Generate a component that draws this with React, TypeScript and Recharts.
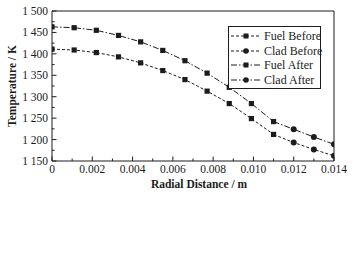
import { LineChart, Line, XAxis, YAxis, ReferenceLine, Legend } from "recharts";

// fuel region (squares) and clad region (circles)
const fuelX = [0, 0.0011, 0.0022, 0.0033, 0.0044, 0.0055, 0.0066, 0.0077, 0.0088, 0.0099, 0.011];
const fuelBefore = [1411, 1409, 1403, 1393, 1379, 1361, 1340, 1313, 1284, 1249, 1212];
const fuelAfter = [1463, 1461, 1455, 1443, 1428, 1408, 1384, 1355, 1322, 1284, 1242];
const cladX = [0.011, 0.012, 0.013, 0.014];
const cladBefore = [1212, 1193, 1177, 1162];
const cladAfter = [1242, 1224, 1206, 1189];

const xTicks = [0, 0.001, 0.002, 0.003, 0.004, 0.005, 0.006, 0.007, 0.008, 0.009, 0.01, 0.011, 0.012, 0.013, 0.014];
const xMajor = [0, 0.002, 0.004, 0.006, 0.008, 0.01, 0.012, 0.014];
const yTicks = [1150, 1175, 1200, 1225, 1250, 1275, 1300, 1325, 1350, 1375, 1400, 1425, 1450, 1475, 1500];
const yMajor = [1150, 1200, 1250, 1300, 1350, 1400, 1450, 1500];

const seriesNames = ["Fuel Before", "Clad Before", "Fuel After", "Clad After"];

const toRows = (xs: number[], ys: number[]) => xs.map((x, i) => ({ r: x, t: ys[i] }));

const INK = "#1c1c1c";
const FONT = "'Liberation Serif', 'Times New Roman', serif";
const BEFORE_DASH = "3 2";
const AFTER_DASH = "6 2 1.5 2";

const isMajor = (list: number[], v: number) => list.some((m) => Math.abs(m - v) < 1e-9);

const fmtX = (v: number) => (v === 0 ? "0" : v.toFixed(3));
const fmtY = (v: number) => `${Math.floor(v / 1000)} ${String(v % 1000).padStart(3, "0")}`;

function XTick({ x, y, payload }: any) {
  const major = isMajor(xMajor, payload.value);
  return (
    <g>
      <line x1={x} x2={x} y1={y} y2={y - (major ? 4.5 : 2.5)} stroke={INK} />
      {major && (
        <text x={x} y={y + 12} textAnchor="middle" fontSize={11.5} fontFamily={FONT} fill={INK}>
          {fmtX(payload.value)}
        </text>
      )}
    </g>
  );
}

function YTick({ x, y, payload }: any) {
  const major = isMajor(yMajor, payload.value);
  return (
    <g>
      <line x1={x} x2={x + (major ? 4.5 : 2.5)} y1={y} y2={y} stroke={INK} />
      {major && (
        <text x={x - 4} y={y + 4} textAnchor="end" fontSize={11.5} fontFamily={FONT} fill={INK}>
          {fmtY(payload.value)}
        </text>
      )}
    </g>
  );
}

const squareDot = ({ cx, cy, key }: any) => (
  <rect key={key} x={cx - 2.6} y={cy - 2.6} width={5.2} height={5.2} fill={INK} />
);

// the clad's first point is shared with the fuel, so it gets no marker
const circleDot = ({ cx, cy, index, key }: any) =>
  index === 0 ? <g key={key} /> : <circle key={key} cx={cx} cy={cy} r={3} fill={INK} />;

function LegendBox() {
  const rows = [
    { name: seriesNames[0], dash: BEFORE_DASH, marker: "square" },
    { name: seriesNames[1], dash: BEFORE_DASH, marker: "circle" },
    { name: seriesNames[2], dash: AFTER_DASH, marker: "square" },
    { name: seriesNames[3], dash: AFTER_DASH, marker: "circle" },
  ];
  return (
    <div
      style={{
        boxSizing: "border-box",
        width: 93,
        height: 63,
        border: `1px solid ${INK}`,
        background: "#fff",
        padding: "2px 0 0 2px",
        fontFamily: FONT,
        fontSize: 12,
        color: INK,
        lineHeight: "14.5px",
        whiteSpace: "nowrap",
        textAlign: "left",
      }}
    >
      {rows.map((r) => (
        <div key={r.name} style={{ display: "flex", alignItems: "center", height: 14.5 }}>
          <svg width={31} height={10} style={{ marginRight: 2, flex: "none" }}>
            <line x1={0} x2={30} y1={5} y2={5} stroke={INK} strokeDasharray={r.dash} />
            {r.marker === "square" ? (
              <rect x={12.5} y={2.5} width={5} height={5} fill={INK} />
            ) : (
              <circle cx={15} cy={5} r={2.8} fill={INK} />
            )}
          </svg>
          <span>{r.name}</span>
        </div>
      ))}
    </div>
  );
}

export default function App() {
  return (
    <div style={{ position: "fixed", left: 0, top: 0, background: "#fff" }}>
      <LineChart width={362} height={259} margin={{ top: 11, right: 28, left: 8, bottom: 0 }}>
        <XAxis
          dataKey="r"
          type="number"
          domain={[0, 0.014]}
          ticks={xTicks}
          allowDataOverflow
          height={35}
          tickSize={0}
          tickMargin={0}
          tick={<XTick />}
          axisLine={{ stroke: INK }}
          interval={0}
          label={{
            content: ({ viewBox }: any) => (
              <text
                x={viewBox.x + viewBox.width / 2 + 6}
                y={viewBox.y + 26.5}
                textAnchor="middle"
                fontSize={11.5}
                fontWeight="bold"
                fontFamily={FONT}
                fill={INK}
              >
                Radial Distance / m
              </text>
            ),
          }}
        />
        <YAxis
          type="number"
          domain={[1150, 1500]}
          ticks={yTicks}
          allowDataOverflow
          width={44}
          tickSize={0}
          tickMargin={0}
          tick={<YTick />}
          axisLine={{ stroke: INK }}
          interval={0}
          label={{
            content: ({ viewBox }: any) => {
              const cx = 12;
              const cy = viewBox.y + viewBox.height / 2;
              return (
                <text
                  x={cx}
                  y={cy}
                  transform={`rotate(-90 ${cx} ${cy})`}
                  textAnchor="middle"
                  dominantBaseline="central"
                  fontSize={11.5}
                  fontWeight="bold"
                  fontFamily={FONT}
                  fill={INK}
                >
                  Temperature / K
                </text>
              );
            },
          }}
        />
        <ReferenceLine y={1500} stroke={INK} />
        <ReferenceLine x={0.014} stroke={INK} />
        <Line
          data={toRows(cladX, cladBefore)}
          dataKey="t"
          name={seriesNames[1]}
          stroke={INK}
          strokeWidth={1}
          strokeDasharray={BEFORE_DASH}
          dot={circleDot}
          isAnimationActive={false}
        />
        <Line
          data={toRows(fuelX, fuelBefore)}
          dataKey="t"
          name={seriesNames[0]}
          stroke={INK}
          strokeWidth={1}
          strokeDasharray={BEFORE_DASH}
          dot={squareDot}
          isAnimationActive={false}
        />
        <Line
          data={toRows(cladX, cladAfter)}
          dataKey="t"
          name={seriesNames[3]}
          stroke={INK}
          strokeWidth={1}
          strokeDasharray={AFTER_DASH}
          dot={circleDot}
          isAnimationActive={false}
        />
        <Line
          data={toRows(fuelX, fuelAfter)}
          dataKey="t"
          name={seriesNames[2]}
          stroke={INK}
          strokeWidth={1}
          strokeDasharray={AFTER_DASH}
          dot={squareDot}
          isAnimationActive={false}
        />
        <Legend
          content={<LegendBox />}
          wrapperStyle={{ position: "absolute", top: 26, left: 228, width: 93 }}
        />
      </LineChart>
    </div>
  );
}
